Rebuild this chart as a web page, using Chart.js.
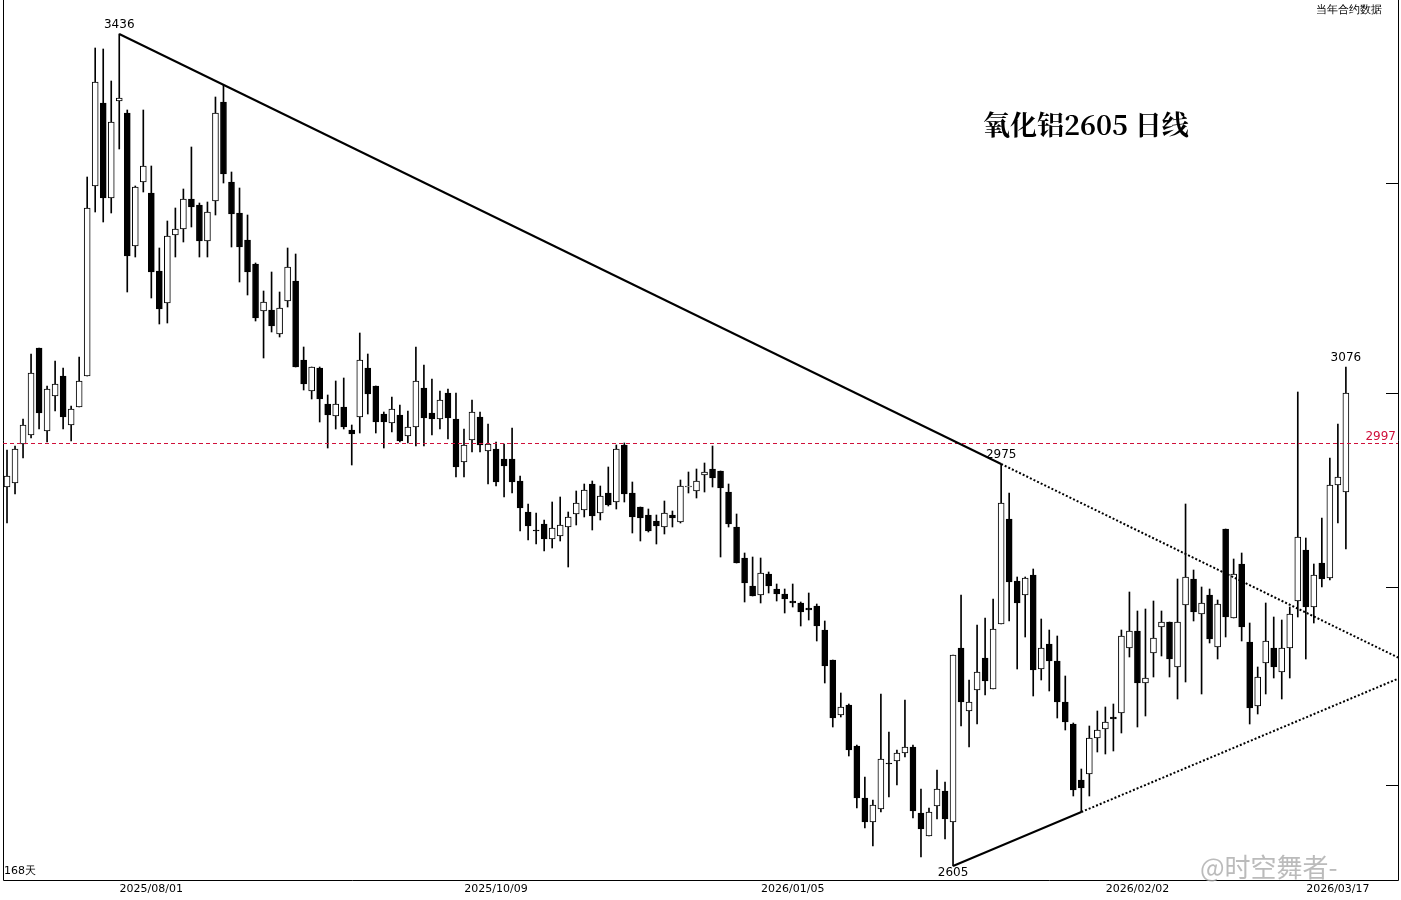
<!DOCTYPE html>
<html>
<head>
<meta charset="utf-8">
<script src="https://cdn.jsdelivr.net/npm/chart.js@4"></script>
<style>
  html, body { margin: 0; padding: 0; background: #fff; overflow: hidden; }
  #wrap { width: 1401px; height: 900px; position: relative; }
</style>
</head>
<body>
<div id="wrap"><canvas id="kline" width="1401" height="900"></canvas></div>
<script>
// daily OHLC, 168 sessions
const opens = [2983,2987,3026,3035,3122,3039,3074,3094,3045,3063,3094,3284,3367,3272,3369,3357,3224,3288,3277,3199,
  3167,3235,3241,3271,3265,3229,3269,3368,3288,3257,3230,3206,3159,3160,3136,3169,3189,3110,3079,3102,
  3066,3054,3063,3040,3053,3102,3084,3056,3047,3055,3034,3043,3082,3057,3051,3077,3051,3008,3030,3053,
  3019,3021,3011,3011,2989,2958,2940,2946,2931,2934,2943,2956,2960,2986,2957,2977,2968,3025,2977,2963,
  2955,2949,2943,2955,2948,2983,2979,2995,3001,2999,2978,2943,2912,2884,2875,2896,2881,2876,2869,2867,
  2862,2864,2840,2810,2755,2765,2724,2672,2648,2661,2707,2709,2717,2723,2657,2634,2664,2679,2648,2822,
  2759,2780,2812,2781,2846,2951,2889,2875,2895,2801,2826,2809,2768,2746,2690,2696,2732,2741,2753,2757,
  2822,2839,2787,2817,2843,2848,2803,2865,2891,2856,2875,2823,2941,2852,2906,2828,2764,2807,2822,2798,
  2822,2869,2920,2863,2907,2892,2985,2978];
const highs = [3020,3024,3051,3116,3122,3084,3109,3102,3064,3113,3293,3422,3421,3389,3436,3360,3284,3360,3304,3222,
  3249,3262,3281,3323,3267,3268,3373,3385,3298,3282,3255,3207,3179,3198,3178,3222,3216,3123,3103,3103,
  3075,3089,3092,3045,3137,3116,3084,3058,3073,3065,3059,3123,3105,3091,3079,3081,3077,3041,3070,3058,
  3046,3028,3026,3042,2994,2966,2957,2950,2968,2973,2958,2979,2986,2989,2984,3003,3025,3027,2988,2963,
  2961,2955,2969,2959,2990,2998,3001,3007,3024,2999,2986,2956,2917,2913,2912,2898,2886,2881,2886,2868,
  2877,2866,2849,2810,2777,2766,2725,2693,2670,2776,2738,2720,2770,2725,2681,2662,2700,2688,2815,2875,
  2790,2845,2852,2871,3006,2977,2893,2893,2901,2851,2840,2834,2794,2747,2701,2744,2759,2763,2766,2840,
  2878,2859,2861,2869,2859,2848,2891,2966,2900,2883,2881,2870,2941,2911,2917,2847,2803,2867,2853,2850,
  2863,3078,2932,2906,2952,3012,3046,3103];
const lows = [2947,2976,3012,3032,3041,3028,3059,3041,3029,3063,3094,3258,3248,3257,3321,3178,3213,3278,3172,3146,
  3147,3213,3228,3243,3213,3213,3255,3287,3223,3188,3175,3149,3112,3138,3133,3163,3103,3080,3071,3048,
  3022,3041,3041,3005,3037,3056,3037,3022,3038,3028,3027,3024,3024,3035,3041,3031,2993,2993,3018,3018,
  2986,2984,2973,2977,2939,2930,2926,2919,2922,2929,2903,2945,2953,2940,2950,2964,2961,2968,2937,2929,
  2938,2926,2936,2943,2947,2977,2972,2978,2983,2913,2943,2907,2868,2874,2867,2877,2869,2857,2863,2844,
  2850,2829,2787,2743,2753,2714,2662,2642,2624,2658,2673,2685,2713,2652,2613,2634,2651,2631,2604,2744,
  2723,2746,2775,2781,2846,2849,2801,2833,2774,2790,2779,2752,2740,2674,2658,2674,2718,2716,2719,2737,
  2813,2743,2754,2793,2814,2793,2771,2788,2849,2776,2827,2811,2833,2852,2829,2746,2756,2776,2792,2771,
  2792,2853,2811,2847,2883,2890,2947,2921];
const closes = [2994,3021,3045,3097,3057,3081,3086,3053,3061,3089,3262,3388,3272,3348,3372,3214,3283,3304,3198,3161,
  3234,3241,3271,3263,3229,3258,3357,3296,3256,3223,3198,3152,3168,3144,3162,3203,3103,3086,3103,3071,
  3055,3066,3043,3036,3110,3076,3048,3048,3061,3029,3043,3089,3052,3051,3070,3052,3003,3025,3058,3025,
  3026,2988,3004,2988,2962,2944,2939,2931,2942,2945,2953,2967,2980,2954,2974,2965,3021,2976,2953,2952,
  2939,2944,2957,2952,2984,2984,2989,2998,2992,2982,2946,2907,2887,2874,2897,2884,2876,2871,2867,2858,
  2860,2844,2804,2752,2763,2720,2672,2648,2665,2711,2706,2717,2723,2659,2641,2658,2681,2651,2815,2768,
  2768,2798,2789,2841,2967,2888,2867,2892,2800,2822,2809,2768,2748,2680,2682,2732,2740,2748,2751,2834,
  2839,2787,2792,2832,2848,2811,2848,2893,2858,2867,2831,2866,2853,2896,2843,2762,2793,2829,2803,2822,
  2856,2933,2863,2895,2891,2985,2993,3077];

const slots = 174;
const xTicks = [[18, '2025/08/01'], [61, '2025/10/09'], [98, '2026/01/05'], [141, '2026/02/02'], [166, '2026/03/17']];
const peakLabels = [[14, 'high', '3436'], [124, 'high', '2975'], [167, 'high', '3076'], [118, 'low', '2605']];
const refLevel = 3027, refText = '2997';
const upperLine = [[14, 3436], [124, 3006]];
const lowerLine = [[118, 2604], [134, 2658]];
const rightTicks = [3287, 3077, 2883, 2685];

const labels = Array.from({length: slots}, (_, i) => i);
const bodies = opens.map((o, i) => [o, closes[i]]);
const wicks = lows.map((l, i) => [l, highs[i]]);
const bodyFill = opens.map((o, i) => closes[i] >= o ? '#ffffff' : '#000000');

const overlay = {
  id: 'overlay',
  afterDatasetsDraw(chart) {
    const {ctx, chartArea: a, scales: {x, y}} = chart;
    ctx.save();
    // frame
    ctx.strokeStyle = '#000'; ctx.lineWidth = 1;
    ctx.beginPath();
    ctx.moveTo(a.left + 0.5, 0); ctx.lineTo(a.left + 0.5, a.bottom + 0.5);
    ctx.lineTo(a.right + 0.5, a.bottom + 0.5); ctx.lineTo(a.right + 0.5, 0);
    ctx.stroke();
    rightTicks.forEach(v => {
      const py = Math.round(y.getPixelForValue(v)) + 0.5;
      ctx.beginPath(); ctx.moveTo(a.right - 12, py); ctx.lineTo(a.right, py); ctx.stroke();
    });
    // reference level
    const ry = Math.round(y.getPixelForValue(refLevel)) + 0.5;
    ctx.strokeStyle = '#d0103a'; ctx.setLineDash([4, 3]);
    ctx.beginPath(); ctx.moveTo(a.left, ry); ctx.lineTo(a.right, ry); ctx.stroke();
    ctx.setLineDash([]);
    ctx.fillStyle = '#d0103a'; ctx.font = '12px "DejaVu Sans"';
    ctx.textAlign = 'right'; ctx.textBaseline = 'bottom';
    ctx.fillText(refText, a.right - 2, ry - 1);
    // trend lines: solid between anchors, dotted extension to the right edge
    [upperLine, lowerLine].forEach(([p, q]) => {
      const x1 = x.getPixelForValue(p[0]), y1 = y.getPixelForValue(p[1]);
      const x2 = x.getPixelForValue(q[0]), y2 = y.getPixelForValue(q[1]);
      const k = (y2 - y1) / (x2 - x1);
      ctx.strokeStyle = '#000'; ctx.lineWidth = 2;
      ctx.beginPath(); ctx.moveTo(x1, y1); ctx.lineTo(x2, y2); ctx.stroke();
      ctx.setLineDash([2, 2]);
      ctx.beginPath(); ctx.moveTo(x2, y2); ctx.lineTo(a.right, y2 + k * (a.right - x2)); ctx.stroke();
      ctx.setLineDash([]);
    });
    // peak labels
    ctx.fillStyle = '#000'; ctx.font = '12px "DejaVu Sans"'; ctx.textAlign = 'center';
    peakLabels.forEach(([i, kind, t]) => {
      const px = x.getPixelForValue(i);
      if (kind === 'high') { ctx.textBaseline = 'bottom'; ctx.fillText(t, px, y.getPixelForValue(highs[i]) - 3); }
      else { ctx.textBaseline = 'top'; ctx.fillText(t, px, y.getPixelForValue(lows[i]) + 1); }
    });
    // x tick labels
    ctx.font = '11px "DejaVu Sans"'; ctx.textBaseline = 'middle';
    xTicks.forEach(([i, t]) => ctx.fillText(t, x.getPixelForValue(i), a.bottom + 9));
    // texts
    ctx.textAlign = 'left';
    ctx.fillText('168天', 4, a.bottom - 9);
    ctx.fillText('当年合约数据', 1316, 10);
    ctx.font = 'bold 27px "Noto Serif CJK SC", "Noto Sans CJK SC", serif';
    ctx.fillText('氧化铝2605 日线', 983, 125);
    ctx.fillStyle = 'rgba(170,170,170,0.8)';
    ctx.font = '26px "Noto Sans CJK SC"';
    ctx.fillText('@时空舞者-', 1200, a.bottom - 13);
    ctx.restore();
  }
};

new Chart(document.getElementById('kline'), {
  type: 'bar',
  data: {
    labels: labels,
    datasets: [
      { data: bodies, backgroundColor: bodyFill, borderColor: '#000', borderWidth: 1,
        borderSkipped: false, barThickness: 6, grouped: false, order: 1 },
      { data: wicks, backgroundColor: '#000', borderWidth: 0, barThickness: 1, grouped: false, order: 2 }
    ]
  },
  options: {
    responsive: false, animation: false, devicePixelRatio: 1,
    layout: { padding: { left: 3, right: 3, top: 0, bottom: 20 } },
    plugins: { legend: { display: false }, tooltip: { enabled: false } },
    scales: {
      x: { display: false, offset: true },
      y: { display: false, min: 2590, max: 3470 }
    }
  },
  plugins: [overlay]
});
</script>
</body>
</html>
